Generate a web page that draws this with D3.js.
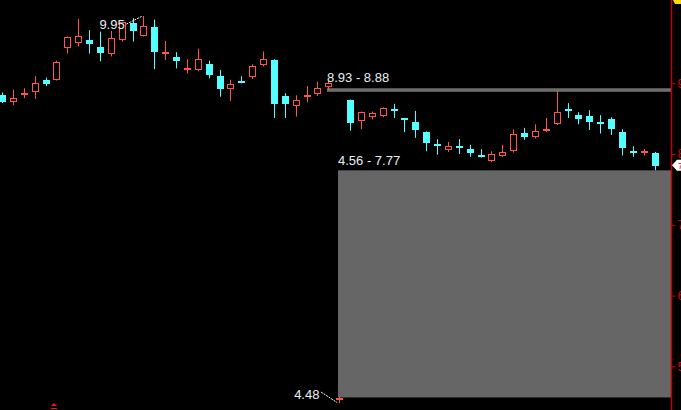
<!DOCTYPE html>
<html>
<head>
<meta charset="utf-8">
<script src="https://cdn.jsdelivr.net/npm/d3@7"></script>
<style>
html,body{margin:0;padding:0;background:#000;overflow:hidden;}
svg{display:block;}
</style>
</head>
<body>
<svg id="chart" width="681" height="410"></svg>
<script>
// ---- data ----
const opens  = [8.83,8.74,8.83,8.87,9.04,9.04,9.49,9.57,9.61,9.51,9.41,9.61,9.85,9.67,9.80,9.42,9.37,9.19,9.18,9.27,9.10,8.92,9.03,9.09,9.25,9.33,8.82,8.67,8.81,8.84,8.95,4.53,8.76,8.46,8.53,8.53,8.64,8.51,8.45,8.31,8.14,8.06,8.11,8.07,7.98,7.90,7.97,8.05,8.30,8.25,8.34,8.43,8.63,8.55,8.54,8.45,8.50,8.31,8.04,8.04,8.02];
const highs  = [8.87,8.91,8.93,9.10,9.08,9.32,9.66,9.91,9.75,9.73,9.74,9.87,9.92,9.95,9.90,9.60,9.44,9.34,9.49,9.32,9.19,9.05,9.10,9.27,9.45,9.34,8.86,8.83,8.96,9.02,9.03,4.57,8.77,8.60,8.60,8.66,8.71,8.51,8.61,8.32,8.21,8.17,8.21,8.13,8.07,8.04,8.13,8.35,8.37,8.42,8.51,8.89,8.72,8.59,8.62,8.55,8.52,8.35,8.11,8.07,8.03];
const lows   = [8.72,8.69,8.79,8.78,8.96,9.04,9.42,9.52,9.42,9.31,9.38,9.59,9.59,9.66,9.20,9.33,9.21,9.14,9.17,9.07,8.81,8.75,9.00,9.06,9.24,8.51,8.51,8.53,8.73,8.82,8.90,4.48,8.33,8.35,8.49,8.52,8.51,8.31,8.23,8.04,7.99,8.03,8.00,7.96,7.95,7.89,7.96,8.02,8.20,8.22,8.31,8.41,8.51,8.42,8.34,8.29,8.27,7.98,7.96,7.98,7.77];
const closes = [8.73,8.79,8.86,9.00,8.99,9.30,9.65,9.67,9.55,9.42,9.64,9.86,9.74,9.81,9.45,9.44,9.32,9.21,9.34,9.11,8.92,8.99,9.01,9.25,9.34,8.71,8.71,8.76,8.83,8.93,9.00,4.55,8.43,8.59,8.58,8.65,8.63,8.50,8.33,8.15,8.12,8.12,8.09,8.02,7.96,8.00,8.03,8.29,8.25,8.33,8.35,8.60,8.61,8.49,8.46,8.43,8.36,8.08,8.03,8.05,7.84];
const axisTicks = [5, 6, 7, 8, 9];
const maxLabel = "9.95";   // highest high
const minLabel = "4.48";   // lowest low
const bandA = [8.93, 8.88]; const bandALabel = "8.93 - 8.88"; const bandAStart = 30;
const bandB = [7.77, 4.56]; const bandBLabel = "4.56 - 7.77"; const bandBStart = 31;
const lastPrice = "7.84";

const candles = opens.map((o, i) => ({i, o, h: highs[i], l: lows[i], c: closes[i]}));

// ---- layout ----
const W = 681, H = 410, axisX = 671;
const svg = d3.select("#chart");
svg.append("rect").attr("width", W).attr("height", H).attr("fill", "#000");

const x = d3.scalePoint().domain(d3.range(candles.length)).range([2, 654.5]);
const y = d3.scaleLinear().domain([5, 9]).range([366.3, 83.3]);

const RED = "#ff5252", CYAN = "#54ffff";
const FONT = "Liberation Sans, Arial, sans-serif";

// range bands
svg.append("rect")
  .attr("x", Math.round(x(bandAStart)) - 1).attr("y", y(bandA[0]))
  .attr("width", axisX - Math.round(x(bandAStart)) + 1)
  .attr("height", y(bandA[1]) - y(bandA[0]))
  .attr("fill", "#6e6e6e");
svg.append("rect")
  .attr("x", Math.round(x(bandBStart)) - 1).attr("y", y(bandB[0]))
  .attr("width", axisX - Math.round(x(bandBStart)) + 1)
  .attr("height", y(bandB[1]) - y(bandB[0]))
  .attr("fill", "#666666");

// candles
const g = svg.append("g");
candles.forEach(d => {
  const up = d.c >= d.o;
  const col = up ? RED : CYAN;
  const cx = Math.round(x(d.i)) + 0.5;
  g.append("line").attr("x1", cx).attr("x2", cx)
    .attr("y1", y(d.h)).attr("y2", y(d.l))
    .attr("stroke", col).attr("stroke-width", 1);
  const top = y(Math.max(d.o, d.c)), bot = y(Math.min(d.o, d.c));
  const x0 = Math.round(x(d.i)) - 3;
  if (up) {
    const hgt = Math.max(bot - top, 1);
    if (hgt <= 2) {
      g.append("rect").attr("x", x0).attr("y", Math.round(top)).attr("width", 7)
        .attr("height", 2).attr("fill", col);
    } else {
      g.append("rect").attr("x", x0 + 0.5).attr("y", Math.round(top) + 0.5)
        .attr("width", 6).attr("height", Math.round(hgt) - 1)
        .attr("fill", "#000").attr("stroke", col).attr("stroke-width", 1);
    }
  } else {
    g.append("rect").attr("x", x0).attr("y", Math.round(top)).attr("width", 7)
      .attr("height", Math.max(Math.round(bot - top), 2)).attr("fill", col);
  }
});

// text labels
const txt = (t, tx, ty) => svg.append("text").attr("x", tx).attr("y", ty)
  .attr("fill", "#e8eef4").attr("font-family", FONT).attr("font-size", 13).text(t);

// max marker
const iMax = d3.maxIndex(highs), iMin = d3.minIndex(lows);
svg.append("line").attr("x1", x(iMax) - 17).attr("y1", y(highs[iMax]) + 8)
  .attr("x2", x(iMax) - 1).attr("y2", y(highs[iMax]))
  .attr("stroke", "#fff").attr("stroke-dasharray", "2,1");
txt(maxLabel, x(iMax) - 44, y(highs[iMax]) + 13);

// min marker
svg.append("line").attr("x1", x(iMin) - 18).attr("y1", y(lows[iMin]) - 11)
  .attr("x2", x(iMin) - 2).attr("y2", y(lows[iMin]) - 0.5)
  .attr("stroke", "#fff").attr("stroke-dasharray", "2,1");
txt(minLabel, x(iMin) - 45, y(lows[iMin]) - 4);

// band labels
txt(bandALabel, Math.round(x(bandAStart)) - 1, y(bandA[0]) - 6.5);
txt(bandBLabel, Math.round(x(bandBStart)) - 1, y(bandB[0]) - 5.5);

// right axis
const axis = d3.axisRight(y).tickValues(axisTicks).tickSize(4).tickPadding(2).tickFormat(d3.format("d"));
const ag = svg.append("g").attr("transform", `translate(${axisX + 0.5},0)`).call(axis);
ag.select(".domain").remove();
ag.selectAll(".tick line").attr("stroke", "#cc0000");
ag.selectAll(".tick text").attr("fill", "#dd0000").attr("font-family", FONT).attr("font-size", 12);
svg.append("line").attr("x1", axisX + 0.5).attr("x2", axisX + 0.5).attr("y1", 0).attr("y2", H)
  .attr("stroke", "#c00000").attr("stroke-width", 1.5);

// last price marker
const yl = y(closes[closes.length - 1]);
svg.append("path")
  .attr("d", `M${axisX + 1},${yl} L${axisX + 6},${yl - 5.5} L${W},${yl - 5.5} L${W},${yl + 5.5} L${axisX + 6},${yl + 5.5} Z`)
  .attr("fill", "#fff");
svg.append("text").attr("x", axisX + 7).attr("y", yl + 3.5).attr("fill", "#e00")
  .attr("font-family", FONT).attr("font-size", 9).text(lastPrice);

// top-right yellow marker
svg.append("path").attr("d", `M${axisX + 2},0 L${W},0 L${W},4 L${axisX + 4},4 Z`).attr("fill", "#ffd800");
// bottom-left red marker
svg.append("path").attr("d", "M51,406 L54,403 L57,406 Z").attr("fill", "#ff1010");
svg.append("rect").attr("x", 51).attr("y", 408).attr("width", 6).attr("height", 1).attr("fill", "#ff1010");
</script>
</body>
</html>
